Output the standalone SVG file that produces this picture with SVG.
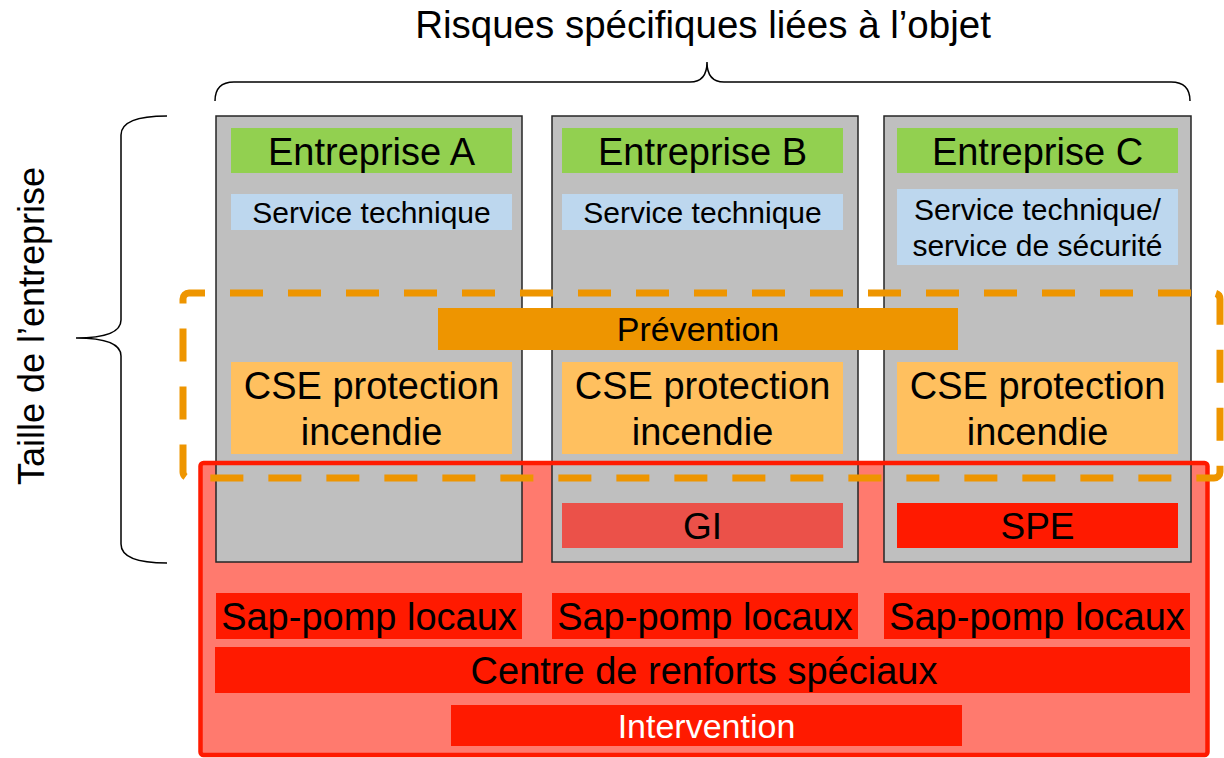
<svg xmlns="http://www.w3.org/2000/svg" width="1224" height="758" viewBox="0 0 1224 758">
<style>
text{font-family:"Liberation Sans",Arial,sans-serif;fill:#000;text-anchor:middle}
.col{fill:#BFBFBF;stroke:#262626;stroke-width:1.5}
.ent{fill:#92D050}
.svc{fill:#BDD7EE}
.cse{fill:#FFC05F}
.red{fill:#FF1A00}
.brace{fill:none;stroke:#000;stroke-width:1.5}
.t36{font-size:37px}
.tent{font-size:38px}
.t30{font-size:30px}
.t38{font-size:38px}
</style>
<rect width="1224" height="758" fill="#fff"/>
<text x="703" y="38" style="font-size:38.5px">Risques spécifiques liées à l’objet</text>
<text transform="translate(44,326) rotate(-90)" style="font-size:36px">Taille de l’entreprise</text>
<g id="connectors">
<path class="brace" d="M215,101 Q215,82 234,82 L690,82 Q707,82 707,62 Q707,82 724,82 L1171,82 Q1190,82 1190,101"/>
<path class="brace" d="M167,116 Q121,116 121,135 L121,320 Q121,338 76,338 Q121,338 121,356 L121,544 Q121,563 167,563"/>
</g>
<rect id="intervention-zone-fill" x="200" y="463" width="1008" height="292" fill="#FF7A6E"/>
<g id="entreprise-a">
<rect class="col" x="216" y="116" width="306" height="446"/>
<rect class="ent" x="231" y="128" width="281" height="45"/>
<text class="tent" x="371.5" y="165">Entreprise A</text>
<rect class="svc" x="231" y="194" width="281" height="36"/>
<text class="t30" x="371.5" y="223">Service technique</text>
<rect class="cse" x="231" y="362" width="281" height="92"/>
<text class="t38" x="371.5" y="399">CSE protection</text>
<text class="t38" x="371.5" y="445">incendie</text>
</g>
<g id="entreprise-b">
<rect class="col" x="552" y="116" width="306" height="446"/>
<rect class="ent" x="562" y="128" width="281" height="45"/>
<text class="tent" x="702.5" y="165">Entreprise B</text>
<rect class="svc" x="562" y="194" width="281" height="36"/>
<text class="t30" x="702.5" y="223">Service technique</text>
<rect class="cse" x="562" y="362" width="281" height="92"/>
<text class="t38" x="702.5" y="399">CSE protection</text>
<text class="t38" x="702.5" y="445">incendie</text>
<rect x="562" y="503" width="281" height="45" fill="#EB5149"/>
<text class="t36" x="702.5" y="539">GI</text>
</g>
<g id="entreprise-c">
<rect class="col" x="884" y="116" width="307" height="446"/>
<rect class="ent" x="897" y="128" width="281" height="45"/>
<text class="tent" x="1037.5" y="165">Entreprise C</text>
<rect class="svc" x="897" y="189" width="281" height="76"/>
<text class="t30" x="1037.5" y="220">Service technique/</text>
<text class="t30" x="1037.5" y="256">service de sécurité</text>
<rect class="cse" x="897" y="362" width="281" height="92"/>
<text class="t38" x="1037.5" y="399">CSE protection</text>
<text class="t38" x="1037.5" y="445">incendie</text>
<rect class="red" x="897" y="503" width="281" height="45"/>
<text class="t36" x="1037.5" y="539">SPE</text>
</g>
<g id="prevention">
<rect x="438" y="308" width="520" height="42" fill="#EE9500"/>
<text x="698" y="341" style="font-size:34px">Prévention</text>
</g>
<g id="sap-pomp">
<rect class="red" x="216" y="593" width="306" height="46"/>
<text class="t38" x="369" y="630">Sap-pomp locaux</text>
<rect class="red" x="552" y="593" width="306" height="46"/>
<text class="t38" x="705" y="630">Sap-pomp locaux</text>
<rect class="red" x="884" y="593" width="306" height="46"/>
<text class="t38" x="1037" y="630">Sap-pomp locaux</text>
</g>
<g id="centre-renforts">
<rect class="red" x="215" y="647" width="975" height="46"/>
<text class="t38" x="704" y="684">Centre de renforts spéciaux</text>
</g>
<g id="intervention">
<rect class="red" x="451" y="705" width="511" height="41"/>
<text x="706.5" y="738" style="font-size:34px;fill:#fff">Intervention</text>
</g>
<rect id="intervention-zone" x="200.5" y="463" width="1007" height="292" rx="3" fill="none" stroke="#FF1A00" stroke-width="4.5"/>
<rect id="prevention-zone" x="183" y="293" width="1037" height="185" rx="6" fill="none" stroke="#EE9500" stroke-width="7" stroke-dasharray="33 25" stroke-dashoffset="17"/>
</svg>
